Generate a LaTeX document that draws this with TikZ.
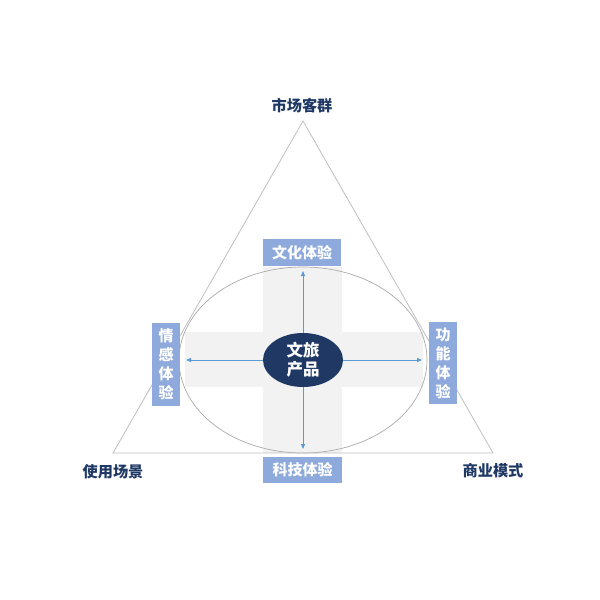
\documentclass[tikz,border=0pt]{standalone}
\usepackage{fontspec}
\setmainfont{Noto Sans CJK SC}
\usepackage{tikz}
\usetikzlibrary{shapes.geometric,arrows.meta}
\definecolor{navy}{RGB}{31,56,100}
\definecolor{boxblue}{RGB}{142,169,219}
\definecolor{arrowblue}{RGB}{91,155,213}
\definecolor{bandgray}{RGB}{242,242,242}
\definecolor{linegray}{RGB}{191,191,191}
\definecolor{ringgray}{RGB}{170,170,170}
\tikzset{
  corner/.style={font=\bfseries\fontsize{15.2}{17}\selectfont, text=navy},
  expbox/.style={fill=boxblue, text=white, font=\bfseries\fontsize{15}{16}\selectfont, inner sep=0pt, align=center},
  spoke/.style={draw=arrowblue, line width=0.8pt, -{Triangle[length=5pt,width=4pt]}},
}
\begin{document}
\begin{tikzpicture}[x=1pt,y=1pt,yscale=-1,xscale=1]
\useasboundingbox (0,0) rectangle (600,600);

% cross bands
\fill [bandgray] (263,267) rectangle (342,453) ;
\fill [bandgray] (185,332) rectangle (423,387) ;

% outer ellipse
\draw [ringgray, line width=0.7pt] (303,360) ellipse [x radius=124, y radius=93] ;

% triangle
\coordinate (apex) at (303,121);
\coordinate (bl) at (113,453);
\coordinate (br) at (493,453);
\draw [linegray, line width=0.8pt] (apex) -- (br) -- (bl) -- cycle ;

% arrow tips
\coordinate (tipN) at (303,271);
\coordinate (tipS) at (303,449);
\coordinate (tipW) at (186,360);
\coordinate (tipE) at (422,360);

% centre
\node [ellipse, fill=navy, minimum width=80pt, minimum height=54pt, inner sep=0pt, text=white,
       font=\bfseries\fontsize{16.5}{19}\selectfont, align=center] (core) at (303,360) {文旅\\产品};
\foreach \t in {tipN,tipS,tipW,tipE}
  \draw [spoke] (core) -- (\t) ;

% experience boxes
\node [expbox, minimum width=78pt, minimum height=27pt] (culture) at (302,252.5) {文化体验};
\node [expbox, minimum width=79pt, minimum height=26pt] (tech) at (302.5,470) {科技体验};
\node [expbox, minimum width=28pt, minimum height=83pt, font=\bfseries\fontsize{15}{19}\selectfont] (emotion) at (166,364.5) {情\\感\\体\\验};
\node [expbox, minimum width=28pt, minimum height=82pt, font=\bfseries\fontsize{15}{19}\selectfont] (function) at (443,363) {功\\能\\体\\验};

% corner labels
\node [corner] (market) at (302,106) {市场客群};
\node [corner] (scene) at (113,472) {使用场景};
\node [corner] (business) at (493,471) {商业模式};

\end{tikzpicture}
\end{document}
